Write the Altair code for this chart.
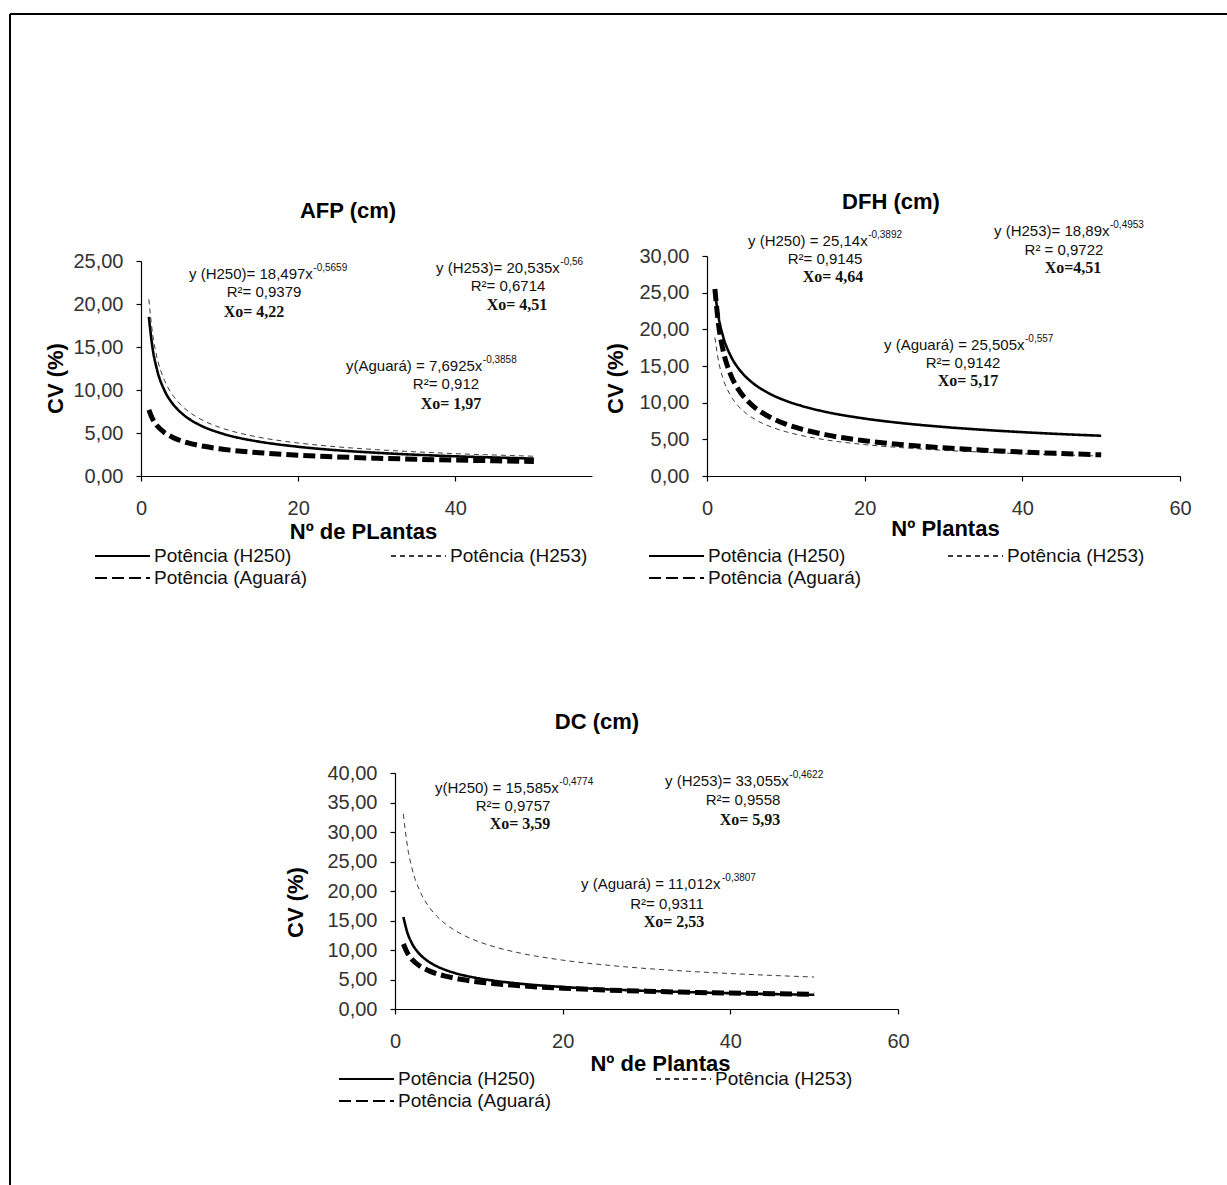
import altair as alt
import pandas as pd

# ---------------- data ----------------
X_POINTS = [1, 1.5, 2, 3, 4, 5, 6, 7, 8, 10, 12, 15, 20, 25, 30, 35, 40, 45, 50]
SERIES = ["Potência (H250)", "Potência (H253)", "Potência (Aguará)"]

AFP_H250 = [18.50, 14.70, 12.50, 9.93, 8.44, 7.44, 6.71, 6.15, 5.70, 5.03, 4.53, 4.00, 3.40, 2.99, 2.70, 2.47, 2.29, 2.15, 2.02]
AFP_H253 = [20.54, 16.36, 13.93, 11.10, 9.45, 8.34, 7.53, 6.91, 6.41, 5.66, 5.11, 4.51, 3.84, 3.39, 3.06, 2.81, 2.60, 2.44, 2.30]
AFP_AGUARA = [7.69, 6.58, 5.89, 5.04, 4.51, 4.13, 3.85, 3.63, 3.45, 3.16, 2.95, 2.71, 2.42, 2.22, 2.07, 1.95, 1.85, 1.77, 1.70]

DFH_H250 = [25.14, 21.47, 19.19, 16.39, 14.66, 13.44, 12.52, 11.79, 11.19, 10.26, 9.56, 8.76, 7.83, 7.18, 6.69, 6.30, 5.98, 5.71, 5.49]
DFH_H253 = [18.89, 15.45, 13.40, 10.96, 9.51, 8.51, 7.78, 7.20, 6.75, 6.04, 5.52, 4.94, 4.28, 3.84, 3.50, 3.25, 3.04, 2.87, 2.72]
DFH_AGUARA = [25.51, 20.35, 17.34, 13.83, 11.78, 10.41, 9.40, 8.63, 8.01, 7.07, 6.39, 5.64, 4.81, 4.25, 3.84, 3.52, 3.27, 3.06, 2.89]

DC_H250 = [15.59, 12.84, 11.19, 9.22, 8.04, 7.23, 6.63, 6.16, 5.78, 5.19, 4.76, 4.28, 3.73, 3.35, 3.07, 2.86, 2.68, 2.53, 2.41]
DC_H253 = [33.06, 27.41, 23.99, 19.89, 17.42, 15.71, 14.44, 13.45, 12.64, 11.40, 10.48, 9.45, 8.28, 7.47, 6.86, 6.39, 6.01, 5.69, 5.42]
DC_AGUARA = [11.01, 9.44, 8.46, 7.25, 6.50, 5.97, 5.57, 5.25, 4.99, 4.58, 4.28, 3.93, 3.52, 3.23, 3.02, 2.84, 2.70, 2.59, 2.48]

AFP_TICKS_Y = [0, 5, 10, 15, 20, 25]
DFH_TICKS_Y = [0, 5, 10, 15, 20, 25, 30]
DC_TICKS_Y = [0, 5, 10, 15, 20, 25, 30, 35, 40]
AFP_TICKS_X = [0, 20, 40]
DFH_TICKS_X = [0, 20, 40, 60]
DC_TICKS_X = [0, 20, 40, 60]

# equation texts: (main, superscript), R2, Xo
AFP_EQ = [("y (H250)= 18,497x", "-0,5659", "R²= 0,9379", "Xo= 4,22"),
          ("y (H253)= 20,535x", "-0,56", "R²= 0,6714", "Xo= 4,51"),
          ("y(Aguará) = 7,6925x", "-0,3858", "R²= 0,912", "Xo= 1,97")]
DFH_EQ = [("y (H250) = 25,14x", "-0,3892", "R²= 0,9145", "Xo= 4,64"),
          ("y (H253)= 18,89x", "-0,4953", "R² = 0,9722", "Xo=4,51"),
          ("y (Aguará) = 25,505x", "-0,557", "R²= 0,9142", "Xo= 5,17")]
DC_EQ = [("y(H250) = 15,585x", "-0,4774", "R²= 0,9757", "Xo= 3,59"),
         ("y (H253)= 33,055x", "-0,4622", "R²= 0,9558", "Xo= 5,93"),
         ("y (Aguará) = 11,012x", "-0,3807", "R²= 0,9311", "Xo= 2,53")]

# ---------------- styling / layout ----------------
W, H = 1227, 1185
FONT = "Liberation Sans"
SERIF = "Liberation Serif"
COLORS = ["#000000", "#3a3a3a", "#000000"]
DASHES = [[1, 0], [5, 4], [12, 5]]
BLANK = pd.DataFrame({"v": [0]})

ARIAL = {' ': 278, '(': 333, ')': 333, '=': 584, ',': 278, '-': 333, 'x': 500,
         'y': 500, 'H': 722, 'A': 667, 'g': 556, 'u': 556, 'a': 556, 'r': 333, 'á': 556}


def arial_w(s, size):
    return sum(ARIAL.get(c, 556) for c in s) * size / 1000.0


def txt(s, x, y, size, weight="normal", font=FONT, align="center", color="#111111"):
    return alt.Chart(BLANK).mark_text(
        text=s, fontSize=size, fontWeight=weight, font=font, align=align,
        baseline="middle", color=color
    ).encode(x=alt.value(x), y=alt.value(y))


def panel(h250, h253, ag, xdom, xrng, ydom, yrng, xticks, yticks, xtitle,
          xtitle_pos, ytitle_pos, leg_x, leg_y, colpad):
    n = len(X_POINTS)
    df = pd.DataFrame({
        "x": X_POINTS * 3,
        "cv": h250 + h253 + ag,
        "serie": [SERIES[0]] * n + [SERIES[1]] * n + [SERIES[2]] * n,
    })
    legend = alt.Legend(
        orient="none", legendX=leg_x, legendY=leg_y, columns=2, direction="horizontal",
        columnPadding=colpad, rowPadding=2, symbolType="stroke",
        symbolSize=3025, symbolStrokeWidth=2, clipHeight=20,
        labelFont=FONT, labelFontSize=19, labelColor="#111111",
        labelOffset=3, labelLimit=0, padding=0, title=None,
    )
    x_axis = alt.Axis(
        orient="bottom", offset=yrng[0] - H, values=xticks, format="d",
        title=xtitle, titleX=xtitle_pos[0], titleY=xtitle_pos[1] - yrng[0],
        titleBaseline="middle", titleAlign="center", labelPadding=17,
        labelFlush=False, grid=False,
    )
    y_axis = alt.Axis(
        orient="left", offset=-xrng[0], values=yticks,
        labelExpr="replace(format(datum.value, '.2f'), '.', ',')",
        title="CV (%)", titleX=ytitle_pos[0] - xrng[0], titleY=ytitle_pos[1],
        titleAngle=270, titleBaseline="middle", titleAlign="center",
        labelPadding=13, grid=False,
    )
    return alt.Chart(df).mark_line(interpolate="monotone").encode(
        x=alt.X("x:Q", scale=alt.Scale(domain=xdom, range=xrng, nice=False, zero=False), axis=x_axis),
        y=alt.Y("cv:Q", scale=alt.Scale(domain=ydom, range=yrng, nice=False, zero=False), axis=y_axis),
        color=alt.Color("serie:N", scale=alt.Scale(domain=SERIES, range=COLORS), legend=legend),
        strokeDash=alt.StrokeDash("serie:N", scale=alt.Scale(domain=SERIES, range=DASHES), legend=legend),
        strokeWidth={"condition": [
            {"test": "datum.serie === '%s'" % SERIES[2], "value": 5},
            {"test": "datum.serie === '%s'" % SERIES[1], "value": 1},
        ], "value": 2.6},
    )


def equations(eqs, eq_pos, r_pos, xo_pos):
    out = []
    for (main, sup, r2, xo), (sx, sy), (rx, ry), (ox, oy) in zip(eqs, eq_pos, r_pos, xo_pos):
        out.append(txt(main, sx, sy, 15, align="left"))
        out.append(txt(sup, sx + arial_w(main, 15) + 0.5, sy - 6, 10, align="left"))
        out.append(txt(r2, rx, ry, 15))
        out.append(txt(xo, ox, oy, 16, weight="bold", font=SERIF))
    return out


afp = panel(AFP_H250, AFP_H253, AFP_AGUARA, [0, 57.4], [141, 592], [0, 25], [476, 261],
            AFP_TICKS_X, AFP_TICKS_Y, "Nº de PLantas", (363, 531), (55, 378), 94, 546, 82)
dfh = panel(DFH_H250, DFH_H253, DFH_AGUARA, [0, 60], [707, 1180], [0, 30], [476, 256],
            DFH_TICKS_X, DFH_TICKS_Y, "Nº Plantas", (945, 528), (615, 378), 648, 546, 85)
dc = panel(DC_H250, DC_H253, DC_AGUARA, [0, 60], [395, 898], [0, 40], [1009, 773],
           DC_TICKS_X, DC_TICKS_Y, "Nº de Plantas", (660, 1063), (295, 902), 338, 1069, 103)

texts = [
    txt("AFP (cm)", 348, 211, 22, weight="bold", color="#000000"),
    txt("DFH (cm)", 891, 202, 22, weight="bold", color="#000000"),
    txt("DC (cm)", 597, 722, 22, weight="bold", color="#000000"),
]
texts += equations(AFP_EQ, [(189, 274), (436, 268), (346, 366)],
                   [(264, 292), (508, 286), (446, 384)],
                   [(254, 312), (517, 305), (451, 404)])
texts += equations(DFH_EQ, [(748, 241), (994, 231), (884, 345)],
                   [(825, 259), (1064, 250), (963, 363)],
                   [(833, 277), (1073, 268), (968, 381)])
texts += equations(DC_EQ, [(435, 788), (665, 781), (581, 884)],
                   [(513, 806), (743, 800), (667, 904)],
                   [(520, 824), (750, 820), (674, 922)])

border_left = alt.Chart(BLANK).mark_rule(color="#000000", strokeWidth=2).encode(
    x=alt.value(10), y=alt.value(14), y2=alt.value(H))
border_top = alt.Chart(BLANK).mark_rule(color="#000000", strokeWidth=2).encode(
    x=alt.value(10), x2=alt.value(W), y=alt.value(14))

chart = alt.layer(border_left, border_top, afp, dfh, dc, *texts).resolve_scale(
    x="independent", y="independent", color="independent", strokeDash="independent"
).resolve_axis(
    x="independent", y="independent"
).resolve_legend(
    color="independent", strokeDash="independent"
).properties(
    width=W, height=H, padding=0, autosize=alt.AutoSizeParams(type="none"),
    background="#ffffff"
).configure_view(
    strokeWidth=0
).configure_axis(
    domainColor="#000000", domainWidth=1.2, tickColor="#000000", tickSize=5,
    tickWidth=1.2, labelFont=FONT, labelFontSize=20, labelColor="#333333",
    titleFont=FONT, titleFontSize=22, titleFontWeight="bold", titleColor="#000000",
)

chart.save("out.html", embed_options={"renderer": "svg", "actions": False})
